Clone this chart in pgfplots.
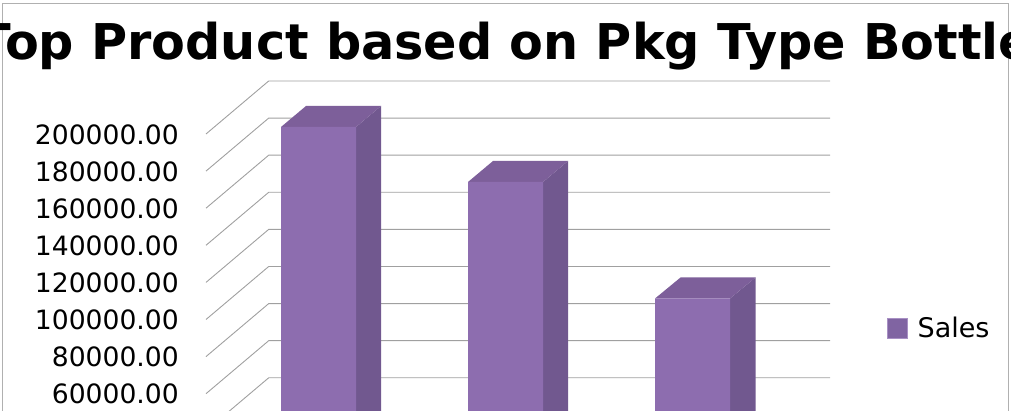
\documentclass[border=0pt]{standalone}
\usepackage{fontspec}
\setmainfont{DejaVu Sans}
\usepackage{pgfplots}
\usepackage{pgfplotstable}
\pgfplotsset{compat=1.18}
\definecolor{front}{HTML}{8D6DAF}
\definecolor{sidec}{HTML}{71588F}
\definecolor{topc}{HTML}{7D5F9A}
\definecolor{legc}{HTML}{8064A2}
\definecolor{legb}{HTML}{A890C4}
\definecolor{gridc}{HTML}{A0A0A0}
\definecolor{framec}{HTML}{B0B0B0}
\pgfplotstableread{
x sales
318.5 195149
505.5 165499
692.5 102696
}\salesdata
\begin{document}
\begin{tikzpicture}
\path[clip,use as bounding box] (0,0) rectangle (1011pt,411pt);
\begin{axis}[
  at={(0,0)},anchor=south west,
  scale only axis,width=1011pt,height=411pt,
  xmin=0,xmax=1011,ymin=50675,ymax=272237,
  axis line style={draw=none},
  xtick=\empty,
  ytick={60000,80000,100000,120000,140000,160000,180000,200000},
  major tick length=0pt,
  scaled y ticks=false,
  yticklabel style={font=\fontsize{26.6}{30}\selectfont,anchor=east,xshift=179pt,yshift=-0.5pt,inner sep=0pt,
    /pgf/number format/fixed,/pgf/number format/fixed zerofill,/pgf/number format/precision=2,
    /pgf/number format/1000 sep={},/pgf/number format/assume math mode=true},
  title={Top Product based on Pkg Type Bottle},
  title style={font=\fontsize{49.3}{56}\bfseries\selectfont,at={(0.5,0.873)},xshift=-0.5pt,anchor=center,inner sep=0pt},
  legend style={at={(887.3pt,89.8pt)},anchor=south west,draw=none,fill=none,inner sep=0pt,outer sep=0pt,
    font=\fontsize{27}{30}\selectfont,legend cell align=left},
  ybar,bar width=75pt,
]
\addplot[forget plot,no marks,draw=none,fill=none] coordinates {(0,60000)};
% gridlines
\addplot[sharp plot,forget plot,gridc,line width=0.9pt] coordinates {(206,60000) (268.7,88571) (830,88571)};
\addplot[sharp plot,forget plot,gridc,line width=0.9pt] coordinates {(206,80000) (268.7,108571) (830,108571)};
\addplot[sharp plot,forget plot,gridc,line width=0.9pt] coordinates {(206,100000) (268.7,128571) (830,128571)};
\addplot[sharp plot,forget plot,gridc,line width=0.9pt] coordinates {(206,120000) (268.7,148571) (830,148571)};
\addplot[sharp plot,forget plot,gridc,line width=0.9pt] coordinates {(206,140000) (268.7,168571) (830,168571)};
\addplot[sharp plot,forget plot,gridc,line width=0.9pt] coordinates {(206,160000) (268.7,188571) (830,188571)};
\addplot[sharp plot,forget plot,gridc,line width=0.9pt] coordinates {(206,180000) (268.7,208571) (830,208571)};
\addplot[sharp plot,forget plot,gridc,line width=0.9pt] coordinates {(206,200000) (268.7,228571) (830,228571)};
\addplot[sharp plot,forget plot,gridc,line width=0.9pt] coordinates {(206,40000) (268.7,68571) (830,68571)};
% bar sides
\addplot[sharp plot,forget plot,draw=none,fill=sidec] coordinates {(356,203774) (381,215094) (381,40000) (356,40000)} --cycle;
\addplot[sharp plot,forget plot,draw=none,fill=sidec] coordinates {(543,174124) (568,185445) (568,40000) (543,40000)} --cycle;
\addplot[sharp plot,forget plot,draw=none,fill=sidec] coordinates {(730,111321) (755.5,122642) (755.5,40000) (730,40000)} --cycle;
% bar tops
\addplot[sharp plot,forget plot,draw=none,fill=topc] coordinates {(281,203774) (306,215094) (381,215094) (356,203774)} --cycle;
\addplot[sharp plot,forget plot,draw=none,fill=topc] coordinates {(468,174124) (493,185445) (568,185445) (543,174124)} --cycle;
\addplot[sharp plot,forget plot,draw=none,fill=topc] coordinates {(655,111321) (680.5,122642) (755.5,122642) (730,111321)} --cycle;
% bar fronts: sales, raised by the depth of the bar in the floor
\addplot[draw=none,fill=front,
  legend image code/.code={\draw[draw=legb,fill=legc,line width=0.6pt] (0pt,-10pt) rectangle (20pt,10pt); \path (28pt,0pt);}]
  table[x=x,y expr=\thisrow{sales}+8625] {\salesdata};
\addlegendentry{Sales}
\draw[framec,line width=1pt] (axis cs:2.5,0) -- (axis cs:2.5,270300) -- (axis cs:1008,270300) -- (axis cs:1008,0);
\end{axis}
\end{tikzpicture}
\end{document}
